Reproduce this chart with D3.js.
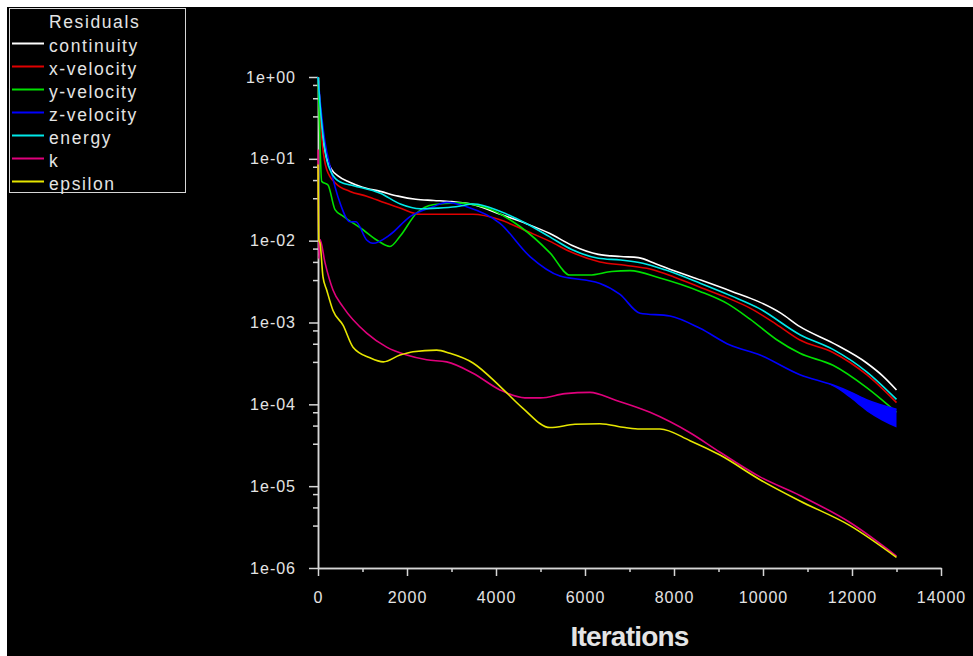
<!DOCTYPE html>
<html>
<head>
<meta charset="utf-8">
<script src="https://cdn.jsdelivr.net/npm/d3@7"></script>
<style>
	body { margin: 0; background: #ffffff; }
	#residual-plot text { font-family: "Liberation Sans", Arial, sans-serif; fill: #e4e4e4; }
</style>
</head>
<body>
<div id="residual-plot"></div>
<script>

// residual histories, [iteration, scaled residual]
const continuity = [[1,1.0],[40,0.5],[100,0.2],[200,0.1],[300,0.075],[450,0.062],[700,0.052],[1000,0.045],[1400,0.04],[1800,0.035],[2200,0.032],[2600,0.031],[3000,0.030],[3500,0.0275],[4100,0.021],[4700,0.016],[5200,0.0123],[5700,0.0088],[6300,0.0068],[6800,0.0064],[7200,0.0062],[7600,0.0052],[8000,0.0043],[8600,0.0033],[9300,0.0024],[9900,0.0018],[10400,0.0013],[10830,0.00089],[11573,0.00056],[12330,0.00032],[12700,0.00022],[13000,0.00015]];
const xVelocity = [[1,1.0],[40,0.4],[100,0.15],[195,0.074],[400,0.05],[720,0.040],[1094,0.035],[1500,0.029],[1843,0.025],[2300,0.021],[2740,0.021],[3480,0.021],[4090,0.018],[4700,0.013],[5213,0.0098],[5700,0.0072],[6337,0.0055],[6900,0.0050],[7461,0.0045],[8000,0.0036],[8584,0.0027],[9200,0.0020],[9708,0.0015],[10300,0.00095],[10830,0.00061],[11573,0.00043],[12330,0.00023],[13000,0.000105]];
const yVelocity = [[1,1.0],[30,0.3],[83,0.053],[225,0.048],[382,0.024],[562,0.020],[1011,0.0136],[1318,0.0102],[1618,0.0085],[1843,0.0113],[2218,0.0218],[2584,0.0275],[3116,0.029],[3708,0.026],[4539,0.0149],[5213,0.0071],[5663,0.0038],[6100,0.0038],[6600,0.0042],[7011,0.0043],[7685,0.0035],[8584,0.0024],[9200,0.0017],[9708,0.0011],[10300,0.00062],[10830,0.00042],[11573,0.0003],[12330,0.00016],[13000,0.00008]];
const zVelocity = [[1,1.0],[50,0.5],[157,0.16],[270,0.081],[494,0.029],[719,0.017],[850,0.017],[1094,0.0102],[1236,0.0093],[1618,0.0118],[2067,0.0197],[2584,0.026],[2891,0.0294],[3341,0.026],[4090,0.0163],[4764,0.0064],[5438,0.0037],[6000,0.0033],[6337,0.0030],[6787,0.0022],[7236,0.0013],[7910,0.0012],[8584,0.00085],[9258,0.00053],[9933,0.0004],[10830,0.00023],[11573,0.000172],[11955,0.000142],[12337,0.000113],[13000,0.000087]];
const energy = [[1,1.0],[40,0.5],[100,0.22],[200,0.095],[300,0.068],[500,0.052],[800,0.047],[1400,0.038],[1850,0.028],[2300,0.0245],[2700,0.025],[3100,0.026],[3500,0.028],[4100,0.0227],[4700,0.016],[5200,0.0112],[5700,0.0078],[6300,0.0061],[6800,0.0058],[7300,0.0053],[7800,0.0044],[8600,0.0030],[9300,0.0021],[9900,0.0015],[10830,0.00071],[11573,0.00047],[12330,0.00025],[13000,0.000115]];
const kResidual = [[1,0.13],[20,0.006],[45,0.0103],[157,0.0054],[337,0.0025],[562,0.00155],[1094,0.00074],[1543,0.0005],[1993,0.0004],[2442,0.00035],[2892,0.00033],[3483,0.00024],[4090,0.00015],[4650,0.00012],[5000,0.00012],[5550,0.000135],[6112,0.00014],[6674,0.000113],[7461,0.00008],[8360,0.000045],[9034,0.000026],[9933,0.000013],[10830,7.7e-6],[11955,3.6e-6],[13000,1.4e-6]];
const epsilon = [[1,0.085],[20,0.01],[45,0.0094],[112,0.0036],[195,0.0025],[337,0.0014],[562,0.00093],[787,0.0005],[1168,0.00037],[1468,0.00033],[1843,0.0004],[2135,0.00044],[2667,0.00046],[2966,0.00042],[3483,0.00032],[4090,0.000166],[4600,0.00009],[5213,0.000052],[5775,0.000057],[6337,0.000058],[6899,0.000052],[7236,0.00005],[7685,0.00005],[8360,0.000036],[9034,0.000024],[9933,0.000012],[10830,6.6e-6],[11955,3.3e-6],[13000,1.35e-6]];

// z-velocity oscillation band at the end, [iteration, upper, lower]
const zBand = [[11400,0.000185,0.000185],[11700,0.000162,0.000152],[11955,0.000142,0.00012],[12337,0.000113,0.000082],[13000,0.000087,0.000052]];

const seriesNames = ["continuity", "x-velocity", "y-velocity", "z-velocity", "energy", "k", "epsilon"];
const seriesValues = [continuity, xVelocity, yVelocity, zVelocity, energy, kResidual, epsilon];

const xTicks = [0, 2000, 4000, 6000, 8000, 10000, 12000, 14000];
const xMinorTicks = [1000, 3000, 5000, 7000, 9000, 11000, 13000];
const yTicks = [1, 1e-1, 1e-2, 1e-3, 1e-4, 1e-5, 1e-6];
const yTickLabels = ["1e+00", "1e-01", "1e-02", "1e-03", "1e-04", "1e-05", "1e-06"];
const yMinorSteps = [3.3, 5.5, 8];

const seriesColors = ["#ffffff", "#e00000", "#00e000", "#0000ff", "#00e8e8", "#e0007c", "#e6e600"];


class ResidualPlot {

	constructor(parentElement, names, values) {
		this.parentElement = parentElement;
		this.names = names;
		this.values = values;

		this.initVis();
	}

	/*
	 *  Initialize vis
	 */
	initVis () {
		let vis = this;

		vis.width = 973;
		vis.height = 656;

		vis.svg = d3.select("#" + vis.parentElement).append("svg")
			.attr("width", vis.width)
			.attr("height", vis.height);

		// black canvas, leaves a thin white frame top and left
		vis.svg.append("rect")
			.attr("x", 7)
			.attr("y", 7)
			.attr("width", vis.width - 7)
			.attr("height", vis.height - 7)
			.attr("fill", "#000");

		vis.x = d3.scaleLinear()
			.domain([0, 14000])
			.range([318, 941]);

		vis.y = d3.scaleLog()
			.domain([1e-6, 1])
			.range([568, 77]);

		vis.drawAxes();
		vis.drawLegend();
		vis.updateVis();
	}

	drawAxes () {
		let vis = this;

		let yMinor = [];
		yTicks.slice(1).forEach(t => yMinorSteps.forEach(s => yMinor.push(t * s)));

		vis.svg.append("g")
			.attr("class", "axis")
			.attr("transform", "translate(318,0)")
			.call(d3.axisLeft(vis.y).tickValues(yMinor).tickFormat("").tickSize(5).tickSizeOuter(0));

		vis.svg.append("g")
			.attr("class", "axis y-axis")
			.attr("transform", "translate(318,0)")
			.call(d3.axisLeft(vis.y).tickValues(yTicks).tickFormat((d, i) => yTickLabels[i]).tickSize(9).tickPadding(13).tickSizeOuter(0));

		vis.svg.append("g")
			.attr("class", "axis")
			.attr("transform", "translate(0,568)")
			.call(d3.axisBottom(vis.x).tickValues(xMinorTicks).tickFormat("").tickSize(4).tickSizeOuter(0));

		vis.svg.append("g")
			.attr("class", "axis x-axis")
			.attr("transform", "translate(0,568)")
			.call(d3.axisBottom(vis.x).tickValues(xTicks).tickFormat(d3.format("d")).tickSize(8).tickPadding(16).tickSizeOuter(0));

		vis.svg.selectAll(".axis path, .axis line")
			.attr("stroke", "#d6d6d6")
			.attr("stroke-width", 1.5);

		vis.svg.selectAll(".axis text")
			.style("font-size", "16px")
			.style("letter-spacing", "1px");

		vis.svg.selectAll(".axis").attr("font-family", null).attr("font-size", null);

		vis.svg.append("text")
			.attr("x", (318 + 941) / 2)
			.attr("y", 646)
			.attr("text-anchor", "middle")
			.style("font-size", "28px")
			.style("font-weight", "bold")
			.style("letter-spacing", "-0.8px")
			.text("Iterations");
	}

	drawLegend () {
		let vis = this;

		let legend = vis.svg.append("g").attr("class", "legend");

		legend.append("rect")
			.attr("x", 9.5)
			.attr("y", 8.5)
			.attr("width", 176)
			.attr("height", 184)
			.attr("fill", "#000")
			.attr("stroke", "#d6d6d6");

		legend.append("text")
			.attr("x", 49)
			.attr("y", 28)
			.style("font-size", "17.5px")
			.style("letter-spacing", "1.6px")
			.text("Residuals");

		let rows = legend.selectAll(".legend-row")
			.data(vis.names)
			.enter()
			.append("g")
			.attr("class", "legend-row")
			.attr("transform", (d, i) => `translate(0,${43.5 + i * 23})`);

		rows.append("line")
			.attr("x1", 12)
			.attr("x2", 44)
			.attr("stroke", (d, i) => seriesColors[i])
			.attr("stroke-width", 2);

		rows.append("text")
			.attr("x", 49)
			.attr("y", 8.3)
			.style("font-size", "17.5px")
			.style("letter-spacing", "1.6px")
			.text(d => d);
	}

	updateVis () {
		let vis = this;

		let line = d3.line()
			.x(d => vis.x(d[0]))
			.y(d => vis.y(d[1]))
			.curve(d3.curveMonotoneX);

		let band = d3.area()
			.x(d => vis.x(d[0]))
			.y0(d => vis.y(d[2]))
			.y1(d => vis.y(d[1]))
			.curve(d3.curveMonotoneX);

		let plot = vis.svg.append("g").attr("class", "residuals");

		vis.values.forEach((series, i) => {
			if (vis.names[i] === "z-velocity") {
				plot.append("path")
					.datum(zBand)
					.attr("d", band)
					.attr("fill", seriesColors[i]);
			}
			plot.append("path")
				.datum(series)
				.attr("class", "residual")
				.attr("d", line)
				.attr("fill", "none")
				.attr("stroke", seriesColors[i])
				.attr("stroke-width", 1.6);
		});
	}
}

let residualPlot = new ResidualPlot("residual-plot", seriesNames, seriesValues);

</script>
</body>
</html>
